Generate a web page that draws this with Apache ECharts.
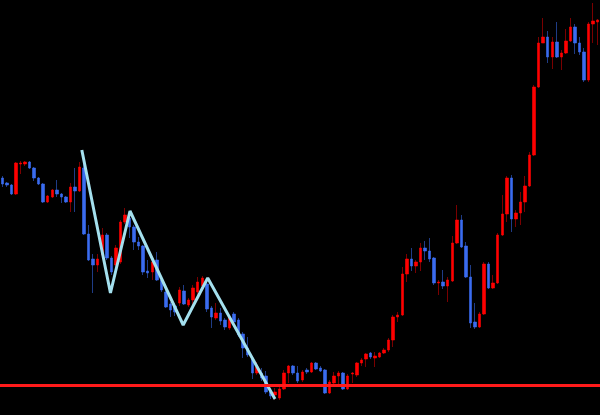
<!DOCTYPE html>
<html>
<head>
<meta charset="utf-8">
<script src="https://cdn.jsdelivr.net/npm/echarts@6/dist/echarts.min.js"></script>
<style>
html,body{margin:0;padding:0;background:#000;}
#chart{width:600px;height:415px;}
</style>
</head>
<body>
<div id="chart"></div>
<script>
// OHLC values, one entry per candle
var opens  = [237,232,230,221,251,251,253,247,237,231,213,218,225,221,218,213,228,224,247,181,156,150,160,180,157,150,153,193,197,188,173,169,144,143,155,135,123,111,109,112,124,110,115,123,129,131,107,97,102,95,87,101,95,81,67,57,42,42,39,23,20,17,26,42,49,42,35,45,43,52,47,45,22,32,39,42,26,41,40,52,56,62,57,58,62,65,75,98,100,141,156,149,153,167,164,157,132,133,129,134,172,195,169,138,93,88,101,151,127,132,180,201,237,196,202,213,229,260,328,372,378,358,373,358,362,374,388,372,363,335,391,393];
var closes = [231,230,221,252,252,253,247,237,231,213,219,225,221,218,213,228,224,248,181,155,150,156,180,157,143,167,193,200,188,173,169,143,142,153,135,125,108,105,103,125,111,115,127,133,137,106,98,102,94,88,97,93,80,67,60,42,48,37,23,19,23,26,42,49,42,34,43,43,52,46,44,22,33,39,42,26,39,42,52,55,61,58,59,62,65,75,98,100,141,156,149,153,167,164,156,132,133,129,135,172,195,168,138,92,88,101,151,127,132,180,201,237,196,202,213,229,260,328,372,378,358,373,358,362,374,388,372,363,335,391,394,395];
var lows   = [228,228,220,220,241,249,246,234,230,212,212,217,218,212,212,203,203,223,180,154,122,143,157,155,140,147,151,191,177,165,165,140,137,135,134,123,107,98,99,109,110,108,109,119,127,103,87,95,90,85,85,91,78,57,58,36,40,34,21,16,15,15,25,32,40,32,33,41,42,45,43,21,21,31,30,25,25,32,38,49,48,56,48,57,61,63,68,93,99,133,144,142,144,155,153,130,120,126,113,133,171,167,137,87,86,87,100,126,126,131,179,193,183,188,190,203,228,259,327,372,352,346,357,345,361,373,361,360,333,333,372,370];
var highs  = [239,233,231,253,254,254,254,248,238,232,220,226,235,222,219,232,247,253,255,190,161,161,187,182,159,170,195,207,203,190,178,170,155,155,163,137,125,113,112,128,130,117,130,138,139,137,109,112,107,97,100,103,97,83,78,59,53,47,44,25,27,28,45,50,50,49,45,47,53,53,49,46,35,43,44,43,41,43,53,57,62,63,63,63,67,77,100,103,148,161,167,155,172,174,177,158,135,145,138,179,210,200,173,150,112,103,153,153,140,182,220,239,240,205,223,239,263,330,378,397,384,378,393,365,386,397,391,378,367,393,412,396];

// hand-drawn zigzag (candle index, price)
var zigzagX = [17.5, 23.8, 28.1, 39.8, 45.2, 60.0];
var zigzagY = [265, 122, 204, 90, 137, 16];

// horizontal support level
var supportLevel = 30;

var categories = opens.map(function (_, i) { return String(i + 1); });
var wickData = opens.map(function (o, i) { return [o, closes[i], lows[i], highs[i]]; });
var bodyData = opens.map(function (o, i) {
  var c = closes[i];
  return [o, c, Math.min(o, c), Math.max(o, c)];
});
var zigzag = zigzagX.map(function (x, i) { return [x, zigzagY[i]]; });

var chart = echarts.init(document.getElementById('chart'), null, { renderer: 'canvas' });
chart.setOption({
  backgroundColor: '#000000',
  animation: false,
  grid: { left: 0, right: 0, top: 0, bottom: 0 },
  xAxis: [
    { type: 'category', data: categories, boundaryGap: true, show: false },
    { type: 'value', min: -0.5, max: categories.length - 0.5, show: false }
  ],
  yAxis: { type: 'value', min: 0, max: 415, show: false, splitLine: { show: false } },
  series: [
    {
      type: 'candlestick',
      name: 'wick',
      data: wickData,
      barWidth: 1,
      itemStyle: {
        color: '#7a0000', color0: '#1f3c86',
        borderColor: '#7a0000', borderColor0: '#1f3c86', borderWidth: 1
      },
      z: 1
    },
    {
      type: 'candlestick',
      name: 'body',
      data: bodyData,
      barWidth: 3,
      itemStyle: {
        color: '#ff0000', color0: '#3a6cf0',
        borderColor: '#ff0000', borderColor0: '#3a6cf0', borderWidth: 0.6
      },
      z: 2
    },
    {
      type: 'line',
      name: 'support',
      xAxisIndex: 1,
      data: [],
      z: 3,
      markLine: {
        silent: true,
        symbol: ['none', 'none'],
        label: { show: false },
        lineStyle: { color: '#ff1a1a', width: 3, type: 'solid' },
        data: [{ yAxis: supportLevel }]
      }
    },
    {
      type: 'line',
      name: 'zigzag',
      xAxisIndex: 1,
      data: zigzag,
      symbol: 'none',
      lineStyle: { color: '#a4e0ee', width: 3 },
      z: 4
    }
  ]
});
</script>
</body>
</html>
